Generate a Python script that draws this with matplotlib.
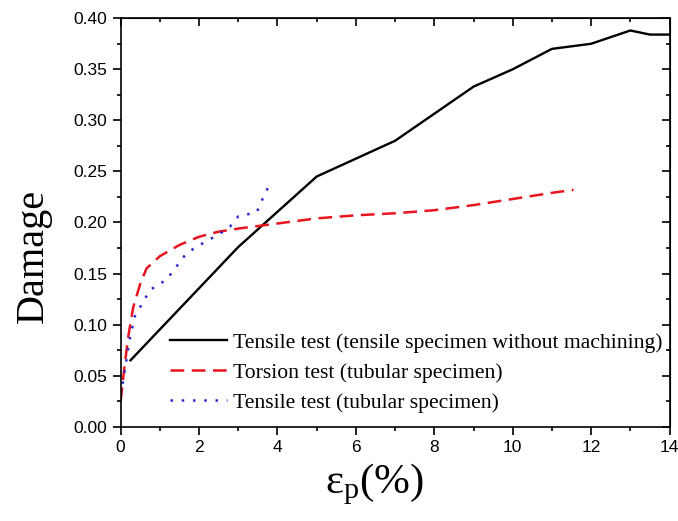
import matplotlib.pyplot as plt
from matplotlib.ticker import MultipleLocator

# Tensile test (tensile specimen without machining)
strain_tensile = [0.25, 3.0, 5.0, 7.0, 9.0, 10.0, 11.0, 12.0, 13.0, 13.5, 14.0]
damage_tensile = [0.065, 0.176, 0.245, 0.28, 0.333, 0.35, 0.37, 0.375, 0.388, 0.384, 0.384]

# Torsion test (tubular specimen)
strain_torsion = [0.0, 0.1, 0.2, 0.32, 0.5, 0.66, 1.0, 1.5, 2.0, 2.5, 3.0, 4.0,
                  5.0, 6.0, 7.0, 8.0, 9.0, 10.0, 11.0, 11.55]
damage_torsion = [0.025, 0.06, 0.09, 0.117, 0.14, 0.155, 0.167, 0.178, 0.186, 0.191, 0.194, 0.199,
                  0.204, 0.207, 0.209, 0.212, 0.217, 0.223, 0.229, 0.232]

# Tensile test (tubular specimen)
strain_tube = [0.05, 0.24, 0.36, 0.75, 1.17, 1.68, 2.11, 2.53, 2.79, 3.0, 3.47, 3.64, 3.81, 3.83]
damage_tube = [0.042, 0.088, 0.108, 0.134, 0.144, 0.170, 0.180, 0.189, 0.196, 0.206, 0.210, 0.225, 0.238, 0.2415]

labels = ['Tensile test (tensile specimen without machining)',
          'Torsion test (tubular specimen)',
          'Tensile test (tubular specimen)']

fig = plt.figure(figsize=(6.78, 5.21), dpi=100)
ax = fig.add_axes([0.178, 0.181, 0.8095, 0.784])

ax.plot(strain_tensile, damage_tensile, color='black', lw=1.7, label=labels[0])
ax.plot(strain_torsion, damage_torsion, color='#e8141e', lw=1.8, dashes=(5.5, 3), label=labels[1])
ax.plot(strain_tube, damage_tube, color='#2a2ad0', lw=1.8, dashes=(1, 3.5), label=labels[2])

ax.set_xlim(0, 14)
ax.set_ylim(0, 0.40)
ax.xaxis.set_major_locator(MultipleLocator(2))
ax.xaxis.set_minor_locator(MultipleLocator(1))
ax.yaxis.set_major_locator(MultipleLocator(0.05))
ax.yaxis.set_minor_locator(MultipleLocator(0.025))
ax.yaxis.set_major_formatter(plt.FormatStrFormatter('%.2f'))

for lab in ax.get_xticklabels() + ax.get_yticklabels():
    lab.set_family('Liberation Sans')
    lab.set_fontsize(12.5)
ax.tick_params(which='major', direction='out', length=6, width=1.2)
ax.tick_params(which='minor', direction='out', length=3, width=1.2)
for s in ax.spines.values():
    s.set_linewidth(1.2)

# mirrored ticks pointing inward on top and right
top = ax.secondary_xaxis('top')
top.xaxis.set_major_locator(MultipleLocator(2))
top.xaxis.set_minor_locator(MultipleLocator(1))
top.tick_params(which='major', direction='in', length=6, width=1.2, labeltop=False)
top.tick_params(which='minor', direction='in', length=3, width=1.2)
right = ax.secondary_yaxis('right')
right.yaxis.set_major_locator(MultipleLocator(0.05))
right.yaxis.set_minor_locator(MultipleLocator(0.025))
right.tick_params(which='major', direction='in', length=6, width=1.2, labelright=False)
right.tick_params(which='minor', direction='in', length=3, width=1.2)

ax.set_ylabel('Damage', family='Liberation Serif', fontsize=29)
ax.yaxis.set_label_coords(-0.125, 0.418)
ax.set_xlabel(r'$\mathregular{\varepsilon_p(\%)}$', family='Liberation Serif', fontsize=31)
ax.xaxis.set_label_coords(0.462, -0.085)

ax.legend(loc='lower left', bbox_to_anchor=(0.055, -0.013), frameon=False,
          prop={'family': 'Liberation Serif', 'size': 15.6},
          handlelength=2.6, handletextpad=0.3, labelspacing=0.45)

plt.savefig('out.png', dpi=100)
